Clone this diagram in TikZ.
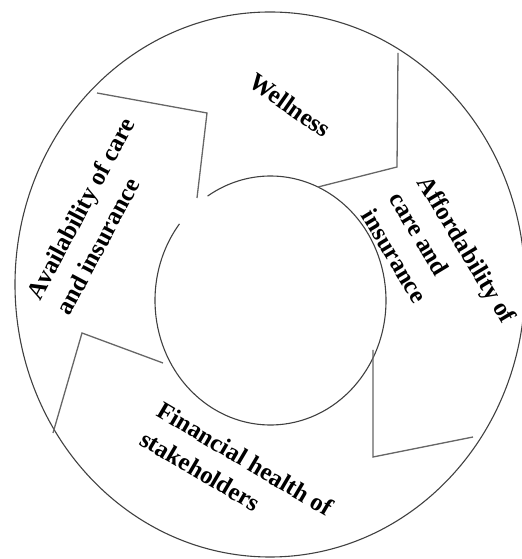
\documentclass[tikz,border=0pt]{standalone}
\usepackage{fontspec}
\setmainfont{Liberation Serif}
\usetikzlibrary{positioning}

\begin{document}
\begin{tikzpicture}[x=1bp, y=1bp,
  ring/.style={draw=black!75, line width=1.1bp},
  notch/.style={draw=black!60, line width=1.3bp, line join=miter},
  segtext/.style={font=\fontsize{25}{33}\selectfont\bfseries, align=left, inner sep=0pt}
]
\useasboundingbox (0,0) rectangle (522,559);

% Outer and inner ring
\draw[ring] (270,274.5) ellipse [x radius=255, y radius=272.5];
\draw[ring] (270.5,258.5) ++(142:115.5 and 124.5)
  arc[start angle=142, end angle=483, x radius=115.5, y radius=124.5];

% Segment borders
\draw[notch] (97,466) -- (207,446) -- (197,361);
\draw[notch] (398,506) -- (397,392) -- (318,372);
\draw[notch] (373,209) -- (373,102) -- (473,122);
\draw[notch] (53,126) -- (82,226) -- (163,196);

% Segment texts
\node[segtext, rotate=-35] (wellness) at (290,454) {Wellness};
\node[segtext, rotate=62] (avail) at (95,343) {Availability of care\\and insurance};
\node[segtext, rotate=-59] (afford) at (439,293) {Affordability of\\care and\\insurance};
\node[segtext, rotate=-30.5] (finance) at (237,86) {Financial health of\\stakeholders};

\end{tikzpicture}
\end{document}
